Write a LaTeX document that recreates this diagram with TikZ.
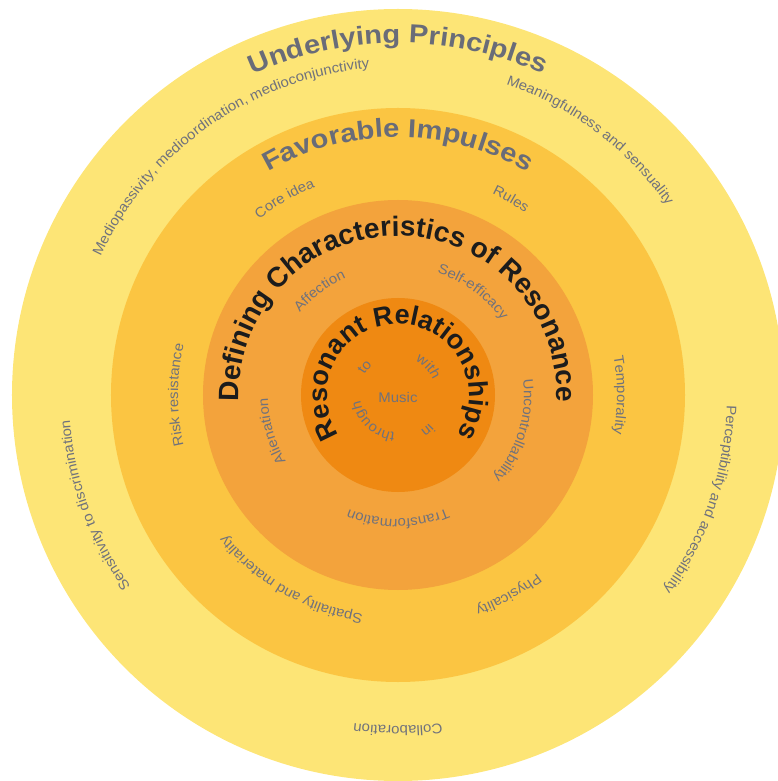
\documentclass[tikz,border=0pt]{standalone}
\usepackage{fontspec}
\setmainfont{Liberation Sans}
\newfontfamily\titlefont[FakeStretch=1.12]{Liberation Sans}
\newfontfamily\labelfont[FakeStretch=1.07]{Liberation Sans}
\usepackage{tikz}
\usetikzlibrary{decorations.text}

\definecolor{principlesyellow}{RGB}{253,229,118}
\definecolor{impulsesgold}{RGB}{251,197,66}
\definecolor{characteristicsorange}{RGB}{243,163,60}
\definecolor{relationshipsorange}{RGB}{239,137,18}
\definecolor{labelgrey}{RGB}{112,114,124}
\definecolor{titlegrey}{RGB}{105,108,120}
\definecolor{titleblack}{RGB}{28,28,28}

\begin{document}
\begin{tikzpicture}[
    ring/.style={circle, inner sep=0pt, draw=none},
    smalllabel/.style={decorate, decoration={text along path, text align=center, text color=labelgrey, text={|\labelfont\fontsize{14}{17}\selectfont|#1}}},
    greytitle/.style={decorate, decoration={text along path, text align=center, text color=titlegrey, text={|\titlefont\fontsize{26}{31}\selectfont\bfseries|#1}}},
    blacktitle/.style 2 args={decorate, decoration={text along path, text align=center, text color=titleblack, text={|\fontsize{#1}{32}\selectfont\bfseries|#2}}}
]
\useasboundingbox (-398pt,-386pt) rectangle (379pt,395pt);
\coordinate (centre) at (0,0);

% rings
\node[ring, fill=principlesyellow, minimum size=772pt](principles) at (centre){};
\node[ring, fill=impulsesgold, minimum size=574pt](impulses) at (centre){};
\node[ring, fill=characteristicsorange, minimum size=390pt](characteristics) at (centre){};
\node[ring, fill=relationshipsorange, minimum size=194pt](relationships) at (centre){};

% underlying principles
\path[greytitle={Underlying Principles}] (150:352pt) arc[start angle=150, end angle=30, radius=352pt];
\path[smalllabel={Mediopassivity, medioordination, medioconjunctivity}] (180:328pt) arc[start angle=180, end angle=70, radius=328pt];
\path[smalllabel={Meaningfulness and sensuality}] (100:329pt) arc[start angle=100, end angle=6, radius=329pt];
\path[smalllabel={Perceptibility and accessibility}] (30:329pt) arc[start angle=30, end angle=-68, radius=329pt];
\path[smalllabel={Collaboration}] (-50:331pt) arc[start angle=-50, end angle=-130, radius=331pt];
\path[smalllabel={Sensitivity to discrimination}] (250:329pt) arc[start angle=250, end angle=150, radius=329pt];

% favorable impulses
\path[greytitle={Favorable Impulses}] (140:258pt) arc[start angle=140, end angle=40, radius=258pt];
\path[smalllabel={Core idea}] (156:224pt) arc[start angle=156, end angle=84, radius=224pt];
\path[smalllabel={Rules}] (90:222pt) arc[start angle=90, end angle=30, radius=222pt];
\path[smalllabel={Temporality}] (40:219pt) arc[start angle=40, end angle=-40, radius=219pt];
\path[smalllabel={Physicality}] (-20:226pt) arc[start angle=-20, end angle=-102, radius=226pt];
\path[smalllabel={Spatiality and materiality}] (290:222pt) arc[start angle=290, end angle=190, radius=222pt];
\path[smalllabel={Risk resistance}] (225:220pt) arc[start angle=225, end angle=135, radius=220pt];

% defining characteristics of resonance
\path[blacktitle={28}{Defining Characteristics of Resonance}] (200:159pt) arc[start angle=200, end angle=-20, radius=159pt];
\path[smalllabel={Affection}] (170:128pt) arc[start angle=170, end angle=84, radius=128pt];
\path[smalllabel={Self-efficacy}] (100:128pt) arc[start angle=100, end angle=8, radius=128pt];
\path[smalllabel={Uncontrollability}] (30:126pt) arc[start angle=30, end angle=-64, radius=126pt];
\path[smalllabel={Transformation}] (-40:124pt) arc[start angle=-40, end angle=-140, radius=124pt];
\path[smalllabel={Alienation}] (240:130pt) arc[start angle=240, end angle=152, radius=130pt];

% resonant relationships
\path[blacktitle={27}{Resonant Relationships}] (240:71pt) arc[start angle=240, end angle=-60, radius=71pt];
\path[smalllabel={to}] (200:39pt) arc[start angle=200, end angle=80, radius=39pt];
\path[smalllabel={with}] (110:38pt) arc[start angle=110, end angle=-24, radius=38pt];
\path[smalllabel={in}] (10:42pt) arc[start angle=10, end angle=-110, radius=42pt];
\path[smalllabel={through}] (310:38pt) arc[start angle=310, end angle=144, radius=38pt];
\node[text=labelgrey, font=\labelfont\fontsize{14}{17}\selectfont](music) at (0pt,-2pt){Music};
\end{tikzpicture}
\end{document}
